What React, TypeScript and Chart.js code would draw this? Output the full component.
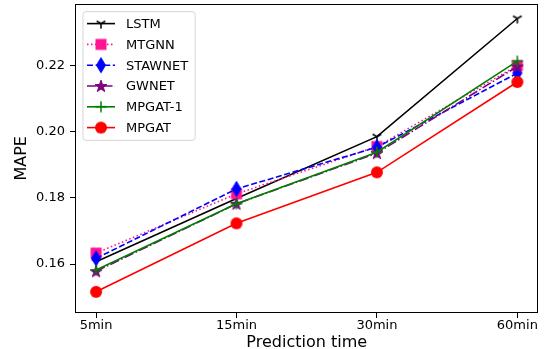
import React, { useEffect, useRef } from 'react';
import { Chart, registerables } from 'chart.js';
Chart.register(...registerables);

const categories = ['5min', '15min', '30min', '60min'];
const seriesNames = ['LSTM', 'MTGNN', 'STAWNET', 'GWNET', 'MPGAT-1', 'MPGAT'];
const lstm = [0.1607, 0.1798, 0.1985, 0.2342];
const mtgnn = [0.1633, 0.1812, 0.1955, 0.22];
const stawnet = [0.1617, 0.1827, 0.1953, 0.2177];
const gwnet = [0.1578, 0.1782, 0.1935, 0.2197];
const mpgat1 = [0.1582, 0.1782, 0.1938, 0.2213];
const mpgat = [0.1516, 0.1723, 0.1877, 0.215];
const yTicks = [0.16, 0.18, 0.2, 0.22];
const xLabel = 'Prediction time';
const yLabel = 'MAPE';

const FONT = '"DejaVu Sans", Verdana, sans-serif';
const SHIFT = 4;

function mk(w: number, h: number, draw: (ctx: CanvasRenderingContext2D) => void) {
  const c = document.createElement('canvas');
  c.width = w;
  c.height = h;
  const ctx = c.getContext('2d')!;
  draw(ctx);
  return c;
}

function makeMarkers() {
  const tri = mk(14, 14, (ctx) => {
    ctx.strokeStyle = '#000';
    ctx.lineWidth = 1.5;
    const cx = 7, cy = 7, r = 5;
    ctx.beginPath();
    ctx.moveTo(cx, cy); ctx.lineTo(cx, cy + r);
    ctx.moveTo(cx, cy); ctx.lineTo(cx - r * 0.866, cy - r * 0.5);
    ctx.moveTo(cx, cy); ctx.lineTo(cx + r * 0.866, cy - r * 0.5);
    ctx.stroke();
  });
  const square = mk(14, 14, (ctx) => {
    ctx.fillStyle = '#ff1493';
    ctx.fillRect(1.5, 1.5, 11, 11);
  });
  const diamond = mk(12, 18, (ctx) => {
    ctx.fillStyle = '#0000ff';
    ctx.strokeStyle = '#0000ff';
    ctx.lineWidth = 1;
    ctx.beginPath();
    ctx.moveTo(6, 1.5); ctx.lineTo(10.5, 9); ctx.lineTo(6, 16.5); ctx.lineTo(1.5, 9);
    ctx.closePath();
    ctx.fill(); ctx.stroke();
  });
  const star = mk(16, 16, (ctx) => {
    ctx.fillStyle = '#800080';
    ctx.strokeStyle = '#800080';
    ctx.lineWidth = 1;
    const cx = 8, cy = 8.5, ro = 6.3, ri = 2.5;
    ctx.beginPath();
    for (let k = 0; k < 10; k++) {
      const r = k % 2 === 0 ? ro : ri;
      const a = -Math.PI / 2 + (k * Math.PI) / 5;
      const x = cx + r * Math.cos(a), y = cy + r * Math.sin(a);
      if (k === 0) ctx.moveTo(x, y); else ctx.lineTo(x, y);
    }
    ctx.closePath();
    ctx.fill(); ctx.stroke();
  });
  const cross = mk(14, 14, (ctx) => {
    ctx.strokeStyle = '#008000';
    ctx.lineWidth = 1.5;
    ctx.beginPath();
    ctx.moveTo(7, 1.5); ctx.lineTo(7, 12.5);
    ctx.moveTo(1.5, 7); ctx.lineTo(12.5, 7);
    ctx.stroke();
  });
  const circle = mk(14, 14, (ctx) => {
    ctx.fillStyle = '#ff0000';
    ctx.beginPath();
    ctx.arc(7, 7, 6, 0, Math.PI * 2);
    ctx.fill();
  });
  return [tri, square, diamond, star, cross, circle];
}

export default function App() {
  const ref = useRef<HTMLCanvasElement>(null);
  useEffect(() => {
    document.body.style.margin = '0';
    const markers = makeMarkers();
    const colors = ['#000000', '#ff1493', '#0000ff', '#800080', '#008000', '#ff0000'];
    const dashes: number[][] = [[], [1.5, 2.5], [6, 2.6], [9.6, 2.4, 1.5, 2.4], [], []];
    const values = [lstm, mtgnn, stawnet, gwnet, mpgat1, mpgat];

    const framePlugin = {
      id: 'frame',
      afterDatasetsDraw(chart: any) {
        const { ctx, chartArea } = chart;
        ctx.save();
        ctx.strokeStyle = '#000';
        ctx.lineWidth = 1;
        const l = Math.round(chartArea.left) + 0.5;
        const t = Math.round(chartArea.top) + 0.5;
        const r = Math.round(chartArea.right) - 0.5;
        const b = Math.round(chartArea.bottom) - 0.5;
        ctx.strokeRect(l, t, r - l, b - t);
        ctx.restore();
      },
    };

    const legendPlugin = {
      id: 'mplLegend',
      afterDraw(chart: any) {
        const { ctx, chartArea } = chart;
        ctx.save();
        ctx.font = '13px ' + FONT;
        const maxW = Math.max(...seriesNames.map((n) => ctx.measureText(n).width));
        const x0 = chartArea.left + 8;
        const y0 = chartArea.top + 8;
        const padX = 4, handleLen = 28, textPad = 11, rowH = 20.8;
        const w = padX + handleLen + textPad + maxW + 7;
        const h = rowH * seriesNames.length + 4;
        ctx.beginPath();
        const rr = 3;
        ctx.moveTo(x0 + rr, y0);
        ctx.arcTo(x0 + w, y0, x0 + w, y0 + h, rr);
        ctx.arcTo(x0 + w, y0 + h, x0, y0 + h, rr);
        ctx.arcTo(x0, y0 + h, x0, y0, rr);
        ctx.arcTo(x0, y0, x0 + w, y0, rr);
        ctx.closePath();
        ctx.fillStyle = 'rgba(255,255,255,0.8)';
        ctx.fill();
        ctx.strokeStyle = 'rgba(204,204,204,0.8)';
        ctx.lineWidth = 1;
        ctx.stroke();
        seriesNames.forEach((name, i) => {
          const cy = y0 + 12 + i * rowH;
          const lx = x0 + padX;
          ctx.strokeStyle = colors[i];
          ctx.lineWidth = 1.6;
          ctx.setLineDash(dashes[i]);
          ctx.beginPath();
          ctx.moveTo(lx, cy);
          ctx.lineTo(lx + handleLen, cy);
          ctx.stroke();
          ctx.setLineDash([]);
          const m = markers[i];
          ctx.drawImage(m, lx + handleLen / 2 - m.width / 2, cy - m.height / 2);
          ctx.fillStyle = '#000';
          ctx.textBaseline = 'middle';
          ctx.textAlign = 'left';
          ctx.fillText(name, lx + handleLen + textPad, cy + 1);
        });
        ctx.restore();
      },
    };

    const chart = new Chart(ref.current!, {
      type: 'line',
      data: {
        datasets: seriesNames.map((name, i) => ({
          label: name,
          data: values[i].map((y, k) => ({ x: k, y })),
          borderColor: colors[i],
          backgroundColor: colors[i],
          borderWidth: 1.6,
          borderDash: dashes[i],
          pointStyle: markers[i] as any,
          pointRadius: 6,
          tension: 0,
          fill: false,
          order: 5 - i,
        })),
      },
      options: {
        animation: false,
        responsive: false,
        maintainAspectRatio: false,
        layout: { padding: { top: 3, right: 7, left: 0, bottom: 0 } },
        plugins: { legend: { display: false }, tooltip: { enabled: false } },
        scales: {
          x: {
            type: 'linear',
            min: -0.15,
            max: 3.15,
            afterBuildTicks: (scale: any) => {
              scale.ticks = categories.map((_, k) => ({ value: k }));
            },
            afterFit: (scale: any) => {
              scale.height = 36;
              scale.paddingLeft = 0;
              scale.paddingRight = 0;
            },
            ticks: {
              autoSkip: false,
              maxRotation: 0,
              padding: 0,
              color: '#000',
              font: { family: FONT, size: 13 },
              callback: (v: any) => categories[v as number],
            },
            grid: { display: true, drawOnChartArea: false, drawTicks: true, tickLength: 5, tickColor: '#000', tickWidth: 1 },
            border: { display: false },
            title: { display: true, text: xLabel, color: '#000', font: { family: FONT, size: 16, lineHeight: 1 }, padding: { top: 0, bottom: -2 } },
          },
          y: {
            type: 'linear',
            min: 0.1452,
            max: 0.2387,
            afterBuildTicks: (scale: any) => {
              scale.ticks = yTicks.map((v) => ({ value: v }));
            },
            afterFit: (scale: any) => {
              scale.width = 75;
              scale.paddingTop = 0;
              scale.paddingBottom = 0;
            },
            ticks: {
              padding: 5,
              color: '#000',
              font: { family: FONT, size: 13 },
              callback: (v: any) => Number(v).toFixed(2),
            },
            grid: { display: true, drawOnChartArea: false, drawTicks: true, tickLength: 5, tickColor: '#000', tickWidth: 1 },
            border: { display: false },
            title: { display: true, text: yLabel, color: '#000', font: { family: FONT, size: 16 }, padding: { top: 12, bottom: 0 } },
          },
        },
      },
      plugins: [framePlugin, legendPlugin],
    });
    return () => chart.destroy();
  }, []);
  return (
    <div style={{ width: 546, height: 349, overflow: 'hidden' }}>
      <canvas
        ref={ref}
        width={546}
        height={349 + SHIFT}
        style={{ width: 546, height: 349 + SHIFT, display: 'block', marginTop: -SHIFT }}
      />
    </div>
  );
}
